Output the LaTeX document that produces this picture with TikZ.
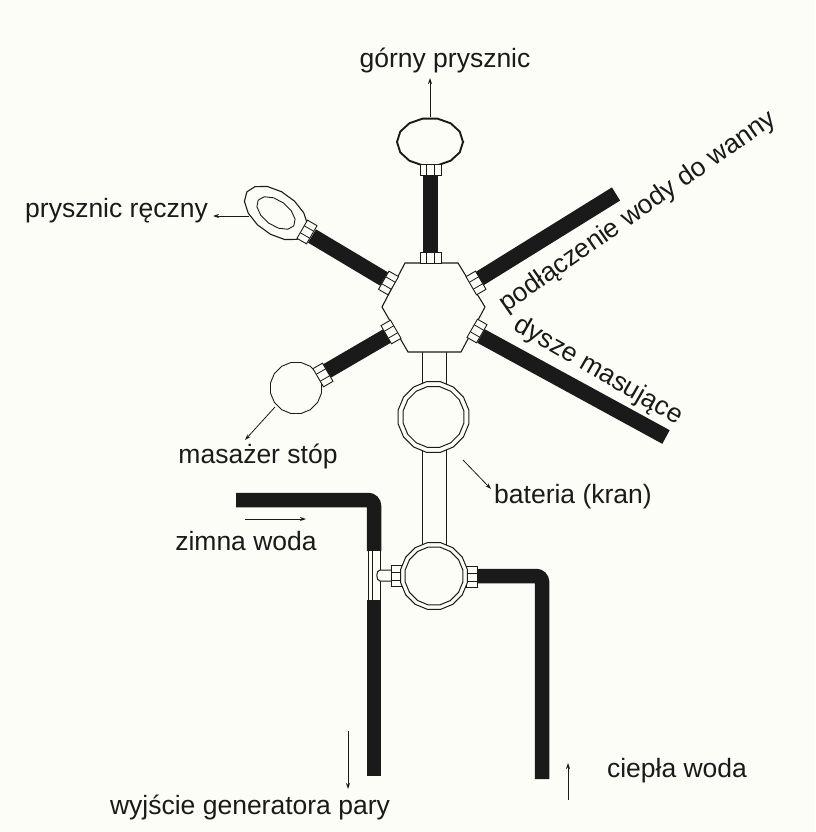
\documentclass[tikz,border=0pt]{standalone}
\usepackage{fontspec}
\setmainfont{Liberation Sans}
\usetikzlibrary{shapes.geometric,arrows.meta}
\definecolor{paper}{HTML}{FDFDF8}
\definecolor{ink}{HTML}{1A1A1A}
\tikzset{
  x=1pt,y=-1pt,
  lbl/.style={font=\fontsize{26.5}{30}\selectfont,text=ink,inner sep=0pt},
  pipe/.style={line width=14.5pt,draw=ink,line cap=butt},
  slantpipe/.style={pipe,line width=15.5pt},
  tube/.style={draw=ink,line width=1pt},
  ptr/.style={draw=ink,line width=.8pt,-{Stealth[length=6pt,width=4pt]}},
  outline/.style={draw=ink,line width=1.1pt,fill=paper},
  valve/.style={regular polygon,regular polygon sides=16,draw=ink,fill=paper,line width=1pt,inner sep=0pt,minimum size=#1},
  nutbox/.style={draw=ink,line width=.9pt,fill=paper,minimum width=11pt,minimum height=21pt,inner sep=0pt},
}
\newcommand{\nutat}[4]{% name, x, y, rotation
  \node[nutbox,rotate=#4] (#1) at (#2,#3) {};
  \draw[draw=ink,line width=.8pt,shift={(#2,#3)},rotate=#4] (-5.5,-4) -- (5.5,-4) (-5.5,4) -- (5.5,4);
}
\begin{document}
\begin{tikzpicture}
\useasboundingbox (0,0) rectangle (815,832);
\fill[paper] (0,0) rectangle (815,832);

% free ends of the pipes
\coordinate (topA) at (430.5,176);
\coordinate (topB) at (430.5,254);
\coordinate (handA) at (312,236);
\coordinate (handB) at (384,279);
\coordinate (footA) at (327,371);
\coordinate (footB) at (387,336);
\coordinate (upperA) at (479,279);
\coordinate (upperEnd) at (616,194);
\coordinate (lowerA) at (481,336);
\coordinate (lowerEnd) at (666,437);
\coordinate (coldStart) at (236,500);
\coordinate (coldCorner) at (374,500);
\coordinate (coldEnd) at (374,551);
\coordinate (outStart) at (374,600);
\coordinate (outEnd) at (374,776);
\coordinate (hotStart) at (476,576);
\coordinate (hotCorner) at (542,576);
\coordinate (hotEnd) at (542,779);

% black pipes
\draw[pipe] (topA) -- (topB);
\draw[slantpipe] (handA) -- (handB);
\draw[slantpipe] (footA) -- (footB);
\draw[slantpipe] (upperA) -- (upperEnd);
\draw[slantpipe] (lowerA) -- (lowerEnd);
\draw[pipe,rounded corners=6pt] (coldStart) -- (coldCorner) -- (coldEnd);
\draw[pipe] (outStart) -- (outEnd);
\draw[pipe,rounded corners=6pt] (hotStart) -- (hotCorner) -- (hotEnd);

% white tubes
\draw[tube] (422,350) -- (422,548) (446,350) -- (446,548);
\fill[paper] (368,551) rectangle (380,600);
\draw[tube] (368,551) -- (368,600) (380,551) -- (380,600);
\draw[draw=ink,line width=.6pt] (372,551) -- (372,600);
\draw[tube,fill=paper] (392,570) -- (380,570) to[out=180,in=180] (380,581) -- (392,581);

% hexagon
\draw[outline] (405,263) -- (458,263) -- (485,307) -- (461,352) -- (408,352) -- (382,307) -- cycle;

% top shower
\draw[draw=ink,line width=1.9pt,fill=paper,shift={(430,142)}] plot[samples=15,domain=0:360] ({33*cos(\x)},{24*sin(\x)}) -- cycle;
% hand shower
\begin{scope}[shift={(276,213)},rotate=-36]
\draw[outline] plot[samples=15,domain=0:360] ({36*cos(\x)},{21*sin(\x)}) -- cycle;
\draw[outline,line width=.9pt] plot[samples=13,domain=0:360] ({22*cos(\x)},{12.5*sin(\x)}) -- cycle;
\end{scope}
% foot massager
\node[valve=52pt,line width=.9pt] (foot) at (296,388) {};

% couplings
\nutat{nTopA}{430.5}{170}{90}
\nutat{nTopB}{430.5}{258}{90}
\nutat{nHandA}{307}{232}{-30}
\nutat{nHandB}{388.5}{283}{-30}
\nutat{nFootA}{323}{375}{30}
\nutat{nFootB}{391}{332}{30}
\nutat{nUpper}{476}{283}{30}
\nutat{nLower}{477}{331}{-30}
\nutat{nCold}{397}{576}{0}
\nutat{nHot}{472}{577}{0}

% valves
\node[valve=72pt] (kran) at (433.5,417) {};
\node[valve=62pt] at (433.5,417) {};
\node[valve=68pt] (mixer) at (434,576) {};
\node[valve=59pt] at (434,576) {};

% labels
\node[lbl] (tGorny) at (445,60) {górny prysznic};
\node[lbl,anchor=east] (tReczny) at (208,211) {prysznic ręczny};
\node[lbl] (tStop) at (258,456) {masażer stóp};
\node[lbl] (tBat) at (573,497) {bateria (kran)};
\node[lbl] (tZimna) at (246,541) {zimna woda};
\node[lbl] (tCiepla) at (677,771) {ciepła woda};
\node[lbl] (tWyj) at (250,807) {wyjście generatora pary};
\node[lbl,rotate=35] (tWanna) at (638,212) {podłączenie wody do wanny};
\node[lbl,rotate=-30] (tDysze) at (598,371) {dysze masujące};

% pointers
\coordinate (pTopS) at (430,117);
\coordinate (pTopE) at (430,78);
\coordinate (pHandS) at (249,216);
\coordinate (pHandE) at (213,216);
\coordinate (pFootS) at (275,407);
\coordinate (pFootE) at (245,440);
\coordinate (pBatS) at (463,460);
\coordinate (pBatE) at (491,489);
\coordinate (pColdS) at (245,519);
\coordinate (pColdE) at (306,519);
\coordinate (pOutS) at (348,731);
\coordinate (pOutE) at (348,789);
\coordinate (pHotS) at (568,800);
\coordinate (pHotE) at (568,763);
\draw[ptr] (pTopS) -- (pTopE);
\draw[ptr] (pHandS) -- (pHandE);
\draw[ptr] (pFootS) -- (pFootE);
\draw[ptr] (pBatS) -- (pBatE);
\draw[ptr] (pColdS) -- (pColdE);
\draw[ptr] (pOutS) -- (pOutE);
\draw[ptr] (pHotS) -- (pHotE);
\end{tikzpicture}
\end{document}
